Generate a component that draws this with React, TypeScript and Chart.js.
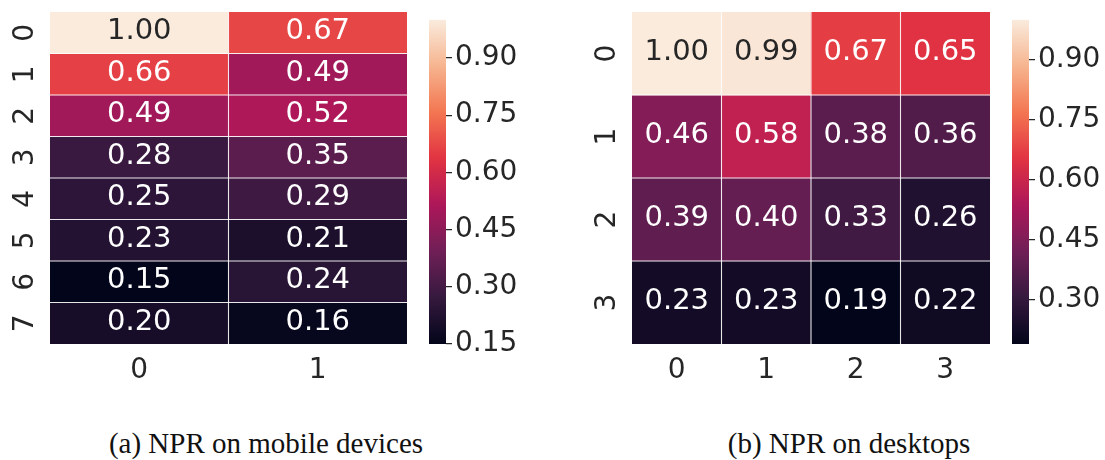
import React, { useEffect, useRef } from 'react';
import { Chart, registerables } from 'chart.js';

Chart.register(...registerables);

// ---------- data ----------
const mobileRows = ['0', '1', '2', '3', '4', '5', '6', '7'];
const mobileCols = ['0', '1'];
const mobileValues = [
  [1.0, 0.67],
  [0.66, 0.49],
  [0.49, 0.52],
  [0.28, 0.35],
  [0.25, 0.29],
  [0.23, 0.21],
  [0.15, 0.24],
  [0.2, 0.16],
];

const desktopRows = ['0', '1', '2', '3'];
const desktopCols = ['0', '1', '2', '3'];
const desktopValues = [
  [1.0, 0.99, 0.67, 0.65],
  [0.46, 0.58, 0.38, 0.36],
  [0.39, 0.4, 0.33, 0.26],
  [0.23, 0.23, 0.19, 0.22],
];

const mobileColorbarTicks = [0.15, 0.3, 0.45, 0.6, 0.75, 0.9];
const desktopColorbarTicks = [0.3, 0.45, 0.6, 0.75, 0.9];

const captionA = '(a) NPR on mobile devices';
const captionB = '(b) NPR on desktops';

// seaborn "rocket" colormap anchor colours
const rocketStops = ['#03051a', '#35193e', '#701f57', '#ad1759', '#e13342', '#f37651', '#f6b48f', '#faebdd'];

const TEXT = '#262626';
const FONT = 'DejaVu Sans';

// ---------- helpers ----------
function hexToRgb(h: string): number[] {
  return [parseInt(h.slice(1, 3), 16), parseInt(h.slice(3, 5), 16), parseInt(h.slice(5, 7), 16)];
}
const rocketRgb = rocketStops.map(hexToRgb);

function cmapRgb(t: number): number[] {
  const tt = Math.max(0, Math.min(1, t));
  const n = rocketRgb.length - 1;
  const p = tt * n;
  const i = Math.min(Math.floor(p), n - 1);
  const f = p - i;
  const a = rocketRgb[i];
  const b = rocketRgb[i + 1];
  return [0, 1, 2].map((k) => a[k] + (b[k] - a[k]) * f);
}
function cmap(t: number): string {
  const c = cmapRgb(t);
  return `rgb(${Math.round(c[0])},${Math.round(c[1])},${Math.round(c[2])})`;
}
function luminance(rgb: number[]): number {
  const l = rgb.map((v) => {
    const c = v / 255;
    return c <= 0.03928 ? c / 12.92 : Math.pow((c + 0.055) / 1.055, 2.4);
  });
  return 0.2126 * l[0] + 0.7152 * l[1] + 0.0722 * l[2];
}

// ---------- heatmap ----------
type Pad = { left: number; right: number; top: number; bottom: number };

function Heatmap(props: {
  rows: string[];
  cols: string[];
  values: number[][];
  left: number;
  width: number;
  height: number;
  pad: Pad;
}) {
  const { rows, cols, values, left, width, height, pad } = props;
  const ref = useRef<HTMLCanvasElement>(null);
  useEffect(() => {
    const flat = values.flat();
    const vmin = Math.min(...flat);
    const vmax = Math.max(...flat);
    const norm = (v: number) => (v - vmin) / (vmax - vmin);

    const decor = {
      id: 'heatmapDecor',
      afterDatasetsDraw(chart: any) {
        const { ctx, chartArea } = chart;
        const x = chart.scales.x;
        const y = chart.scales.y;
        ctx.save();
        // cell separators
        ctx.strokeStyle = 'rgba(255,255,255,0.9)';
        ctx.lineWidth = 1.1;
        for (let i = 1; i < rows.length; i++) {
          const py = y.getPixelForValue(i);
          ctx.beginPath();
          ctx.moveTo(chartArea.left, py);
          ctx.lineTo(chartArea.right, py);
          ctx.stroke();
        }
        for (let j = 1; j < cols.length; j++) {
          const px = (x.getPixelForValue(j - 1) + x.getPixelForValue(j)) / 2;
          ctx.beginPath();
          ctx.moveTo(px, chartArea.top);
          ctx.lineTo(px, chartArea.bottom);
          ctx.stroke();
        }
        // annotations
        ctx.font = `29px "${FONT}"`;
        ctx.textAlign = 'center';
        ctx.textBaseline = 'middle';
        values.forEach((row, i) => {
          row.forEach((v, j) => {
            const lum = luminance(cmapRgb(norm(v)));
            ctx.fillStyle = lum > 0.408 ? TEXT : '#ffffff';
            ctx.fillText(v.toFixed(2), x.getPixelForValue(j), y.getPixelForValue(i + 0.5) - 1);
          });
        });
        // rotated row labels
        ctx.font = `28px "${FONT}"`;
        ctx.fillStyle = TEXT;
        ctx.textAlign = 'center';
        ctx.textBaseline = 'alphabetic';
        rows.forEach((r, i) => {
          ctx.save();
          ctx.translate(chartArea.left - 17, y.getPixelForValue(i + 0.5));
          ctx.rotate(-Math.PI / 2);
          ctx.fillText(r, 0, 0);
          ctx.restore();
        });
        ctx.restore();
      },
    };

    const chart = new Chart(ref.current as HTMLCanvasElement, {
      type: 'bar',
      data: {
        labels: cols,
        datasets: rows.map((r, i) => ({
          label: r,
          data: cols.map(() => [i, i + 1]) as any,
          backgroundColor: values[i].map((v) => cmap(norm(v))),
          borderWidth: 0,
          barPercentage: 1,
          categoryPercentage: 1,
          grouped: false,
        })),
      },
      options: {
        responsive: false,
        animation: false,
        devicePixelRatio: 1,
        layout: { padding: { left: pad.left, right: pad.right, top: pad.top, bottom: 0 } },
        plugins: { legend: { display: false }, tooltip: { enabled: false } },
        scales: {
          x: {
            type: 'category',
            offset: true,
            grid: { display: false },
            border: { display: false },
            ticks: { color: TEXT, font: { family: FONT, size: 28 }, padding: 2 },
            afterFit: (s: any) => {
              s.height = pad.bottom;
            },
          },
          y: { type: 'linear', display: false, min: 0, max: rows.length, reverse: true },
        },
      } as any,
      plugins: [decor],
    });
    return () => chart.destroy();
  }, []);
  return (
    <canvas
      ref={ref}
      width={width}
      height={height}
      style={{ position: 'absolute', left, top: 0, width, height }}
    />
  );
}

// ---------- colorbar ----------
function Colorbar(props: {
  vmin: number;
  vmax: number;
  ticks: number[];
  left: number;
  width: number;
  height: number;
  padLeft: number;
  barWidth: number;
  padTop: number;
  padBottom: number;
}) {
  const { vmin, vmax, ticks, left, width, height, padLeft, barWidth, padTop, padBottom } = props;
  const ref = useRef<HTMLCanvasElement>(null);
  useEffect(() => {
    const gradientPlugin = {
      id: 'cbGradient',
      beforeDatasetsDraw(chart: any) {
        const y = chart.scales.y;
        const y0 = y.getPixelForValue(vmin);
        const y1 = y.getPixelForValue(vmax);
        if (!isFinite(y0) || !isFinite(y1)) return;
        const g = chart.ctx.createLinearGradient(0, y0, 0, y1);
        const N = 64;
        for (let k = 0; k <= N; k++) g.addColorStop(k / N, cmap(k / N));
        const meta = chart.getDatasetMeta(0);
        meta.data.forEach((el: any) => {
          el.options.backgroundColor = g;
        });
      },
    };
    const chart = new Chart(ref.current as HTMLCanvasElement, {
      type: 'bar',
      data: {
        labels: [''],
        datasets: [
          {
            data: [[vmin, vmax]] as any,
            backgroundColor: cmap(0.5),
            borderWidth: 0,
            barPercentage: 1,
            categoryPercentage: 1,
          },
        ],
      },
      options: {
        responsive: false,
        animation: false,
        devicePixelRatio: 1,
        layout: { padding: { left: padLeft, right: 0, top: padTop, bottom: padBottom } },
        plugins: { legend: { display: false }, tooltip: { enabled: false } },
        scales: {
          x: { display: false },
          y: {
            position: 'right',
            min: vmin,
            max: vmax,
            afterBuildTicks: (s: any) => {
              s.ticks = ticks.map((v) => ({ value: v }));
            },
            ticks: {
              color: TEXT,
              font: { family: FONT, size: 28 },
              padding: 3,
              callback: (v: any) => Number(v).toFixed(2),
            },
            grid: { drawOnChartArea: false, drawTicks: true, tickLength: 6, color: TEXT, lineWidth: 1.25 },
            border: { display: false },
            afterFit: (s: any) => {
              s.width = width - padLeft - barWidth;
            },
          },
        },
      } as any,
      plugins: [gradientPlugin],
    });
    return () => chart.destroy();
  }, []);
  return (
    <canvas
      ref={ref}
      width={width}
      height={height}
      style={{ position: 'absolute', left, top: 0, width, height }}
    />
  );
}

const captionStyle: React.CSSProperties = {
  position: 'absolute',
  top: 429,
  width: 400,
  textAlign: 'center',
  fontFamily: '"Liberation Serif", serif',
  fontSize: 29,
  lineHeight: '29px',
  color: '#111',
  whiteSpace: 'nowrap',
};

export default function App() {
  const mFlat = mobileValues.flat();
  const dFlat = desktopValues.flat();
  return (
    <div style={{ position: 'absolute', left: 0, top: 0, width: 1105, height: 460, background: '#fff', overflow: 'hidden' }}>
      <Heatmap
        rows={mobileRows}
        cols={mobileCols}
        values={mobileValues}
        left={0}
        width={420}
        height={400}
        pad={{ left: 50, right: 13, top: 12, bottom: 56 }}
      />
      <Colorbar
        vmin={Math.min(...mFlat)}
        vmax={Math.max(...mFlat)}
        ticks={mobileColorbarTicks}
        left={420}
        width={110}
        height={400}
        padLeft={9}
        barWidth={17}
        padTop={11}
        padBottom={56}
      />
      <Heatmap
        rows={desktopRows}
        cols={desktopCols}
        values={desktopValues}
        left={580}
        width={420}
        height={400}
        pad={{ left: 52, right: 10, top: 12, bottom: 56 }}
      />
      <Colorbar
        vmin={Math.min(...dFlat)}
        vmax={Math.max(...dFlat)}
        ticks={desktopColorbarTicks}
        left={1000}
        width={105}
        height={400}
        padLeft={12}
        barWidth={17}
        padTop={11}
        padBottom={56}
      />
      <div style={{ ...captionStyle, left: 66 }}>{captionA}</div>
      <div style={{ ...captionStyle, left: 649 }}>{captionB}</div>
    </div>
  );
}
